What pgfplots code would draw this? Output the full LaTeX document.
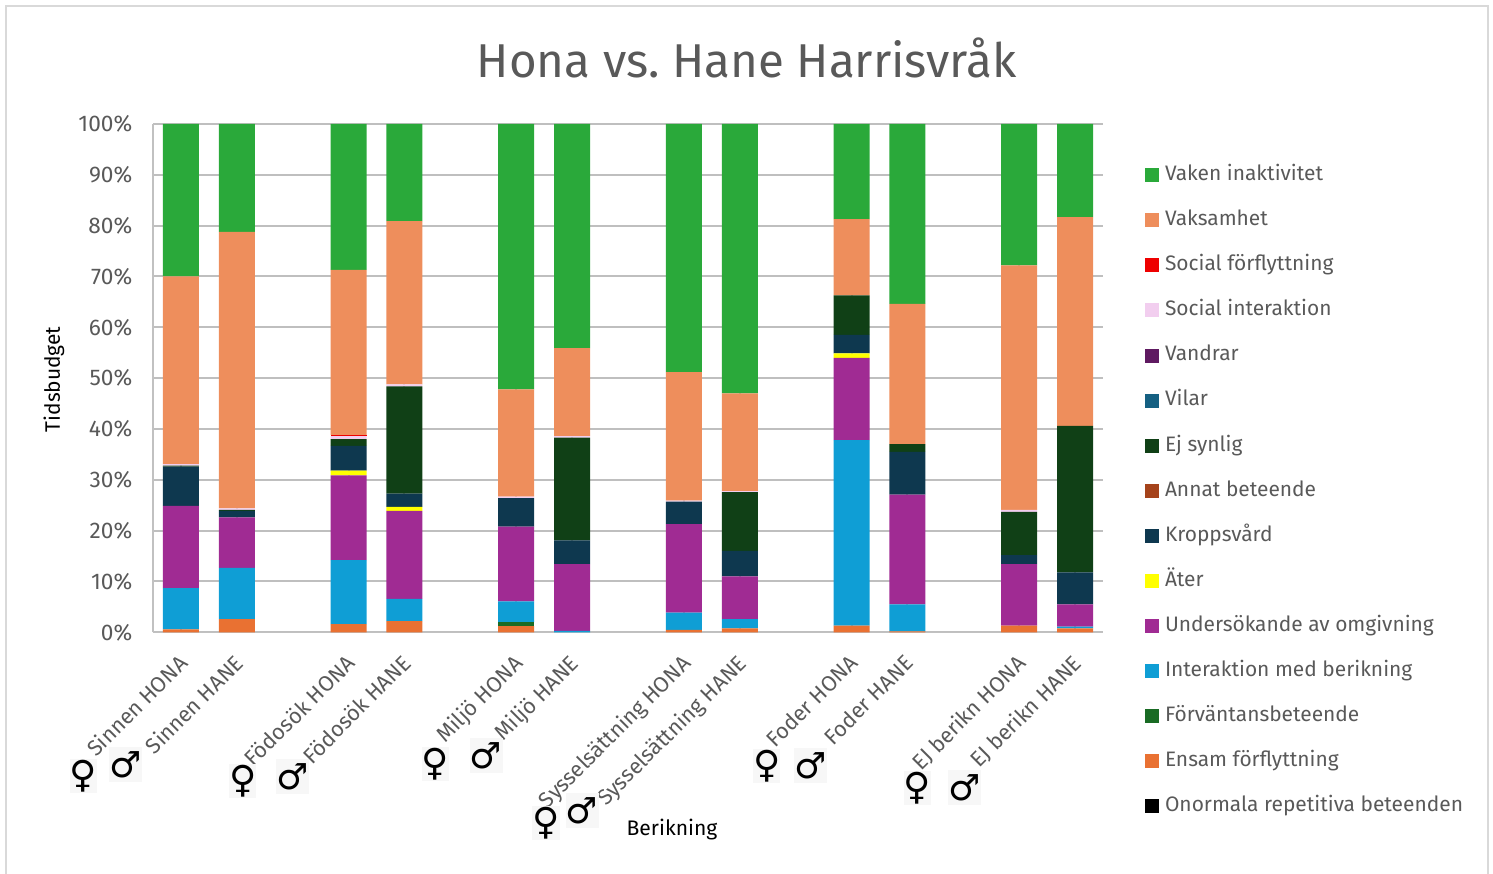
\documentclass[border=0pt]{standalone}
\usepackage{pgfplots}
\usepackage{pgfplotstable}
\usepackage{fontspec}
\setmainfont{Fira Sans}
\newfontfamily\sym{DejaVu Sans}
\pgfplotsset{compat=1.18}
\definecolor{cVaken}{HTML}{2AA93A}
\definecolor{cVaks}{HTML}{EE8E5C}
\definecolor{cSocF}{HTML}{EE0000}
\definecolor{cSocI}{HTML}{F2CEEF}
\definecolor{cVand}{HTML}{5F1A61}
\definecolor{cVilar}{HTML}{156082}
\definecolor{cEj}{HTML}{104016}
\definecolor{cAnnat}{HTML}{A5431B}
\definecolor{cKro}{HTML}{0E384F}
\definecolor{cAter}{HTML}{FFFF00}
\definecolor{cUnd}{HTML}{A02B93}
\definecolor{cInt}{HTML}{0F9ED5}
\definecolor{cForv}{HTML}{196B24}
\definecolor{cEns}{HTML}{E97132}
\definecolor{txt}{HTML}{595959}
\definecolor{grid}{HTML}{D9D9D9}
\pgfplotstableread{
x  Ono Ens Forv Int  Und  Ater Kro Annat Ej   Vilar Vand SocI SocF Vaks Vaken
0  0   0.6 0    8.1  16.2 0    7.7 0     0.2  0     0    0.3  0    36.9 30.0
1  0   2.6 0    10.1 9.9  0    1.3 0     0.2  0     0    0.3  0    54.4 21.2
3  0   1.6 0    12.6 16.7 0.9  4.9 0     1.3  0     0    0.6  0.2  32.5 28.7
4  0   2.2 0    4.4  17.3 0.8  2.6 0     21.1 0     0    0.4  0    32.1 19.1
6  0   1.2 0.8  4.1  14.7 0    5.6 0     0    0     0    0.3  0    21.1 52.2
7  0   0   0    0.3  13.1 0    4.7 0     20.2 0     0    0.3  0    17.3 44.1
9  0   0.5 0    3.4  17.4 0    4.4 0     0    0     0    0.2  0    25.3 48.8
10 0   0.8 0    1.8  8.4  0    5.0 0     11.6 0     0    0.2  0    19.2 53.0
12 0   1.3 0    36.5 16.2 0.9  3.6 0     7.8  0     0    0    0    15.0 18.7
13 0   0.2 0    5.3  21.6 0    8.4 0     1.5  0     0    0    0    27.6 35.4
15 0   1.3 0    0    12.1 0    1.8 0     8.5  0     0    0.4  0    48.1 27.8
16 0   0.8 0    0.3  4.4  0    6.3 0     28.8 0     0    0    0    41.1 18.3
}\data
\newcommand{\fem}[2]{\node[fill=black!3,inner sep=0pt,minimum width=18.75pt,minimum height=25.5pt,font=\sym\fontsize{28pt}{28pt}\selectfont] at (#1*0.75pt,{(874-#2)*0.75pt}) {♀};}
\newcommand{\mal}[2]{\node[fill=black!3,inner sep=0pt,minimum width=24.75pt,minimum height=26pt,font=\sym\fontsize{27pt}{27pt}\selectfont] at (#1*0.75pt,{(874-#2)*0.75pt}) {♂};}
\begin{document}
\frenchspacing
\begin{tikzpicture}[x=1pt,y=1pt]
\path[use as bounding box] (0,0) rectangle (1119.75pt,655.5pt);
\draw[grid,line width=1.5pt] (4.5pt,0) -- (4.5pt,650.7pt) -- (1116pt,650.7pt) -- (1116pt,0);
\begin{axis}[
  at={(114.75pt,181.25pt)},anchor=south west,
  scale only axis,width=712.5pt,height=381.25pt,
  ybar stacked,bar width=27pt,
  xmin=-0.5,xmax=16.5,ymin=0,ymax=100,
  xtick={0,1,3,4,6,7,9,10,12,13,15,16},
  xticklabels={Sinnen HONA,Sinnen HANE,Födosök HONA,Födosök HANE,Miljö HONA,Miljö HANE,Sysselsättning HONA,Sysselsättning HANE,Foder HONA,Foder HANE,EJ berikn HONA,EJ berikn HANE},
  ytick={0,10,...,100},
  yticklabel={\pgfmathprintnumber{\tick}\%},
  /pgf/number format/assume math mode=true,
  major tick length=0pt,
  ymajorgrids,
  grid style={grid,line width=1.5pt},
  axis line style={grid!70!black!60,line width=1pt},
  axis x line*=bottom,axis y line*=left,
  axis line style={-},
  tick label style={text=txt,font=\fontsize{16pt}{18pt}\selectfont},
  yticklabel style={xshift=-12pt,font=\fontsize{17pt}{18pt}\selectfont},
  xticklabel style={rotate=45,anchor=north east,xshift=-9.6pt,yshift=-5.35pt,font=\fontsize{16.3pt}{18pt}\selectfont},
  reverse legend,
  legend cell align=left,
  legend image code/.code={\fill[#1] (0pt,-5.25pt) rectangle (10.5pt,5.25pt);\path (15pt,0pt);},
  legend style={at={(1.0442,0.9227)},anchor=north west,draw=none,fill=none,inner sep=0pt,outer sep=0pt,
     font=\fontsize{15.7pt}{18pt}\selectfont,text=txt,row sep=15.8pt,
     nodes={inner sep=0pt,text height=13pt,text depth=5pt}},
]
\addplot[fill=black,draw=none] table[x=x,y=Ono] {\data};\addlegendentry{Onormala repetitiva beteenden}
\addplot[fill=cEns,draw=none] table[x=x,y=Ens] {\data};\addlegendentry{Ensam förflyttning}
\addplot[fill=cForv,draw=none] table[x=x,y=Forv] {\data};\addlegendentry{Förväntansbeteende}
\addplot[fill=cInt,draw=none] table[x=x,y=Int] {\data};\addlegendentry{Interaktion med berikning}
\addplot[fill=cUnd,draw=none] table[x=x,y=Und] {\data};\addlegendentry{Undersökande av omgivning}
\addplot[fill=cAter,draw=none] table[x=x,y=Ater] {\data};\addlegendentry{Äter}
\addplot[fill=cKro,draw=none] table[x=x,y=Kro] {\data};\addlegendentry{Kroppsvård}
\addplot[fill=cAnnat,draw=none] table[x=x,y=Annat] {\data};\addlegendentry{Annat beteende}
\addplot[fill=cEj,draw=none] table[x=x,y=Ej] {\data};\addlegendentry{Ej synlig}
\addplot[fill=cVilar,draw=none] table[x=x,y=Vilar] {\data};\addlegendentry{Vilar}
\addplot[fill=cVand,draw=none] table[x=x,y=Vand] {\data};\addlegendentry{Vandrar}
\addplot[fill=cSocI,draw=none] table[x=x,y=SocI] {\data};\addlegendentry{Social interaktion}
\addplot[fill=cSocF,draw=none] table[x=x,y=SocF] {\data};\addlegendentry{Social förflyttning}
\addplot[fill=cVaks,draw=none] table[x=x,y=Vaks] {\data};\addlegendentry{Vaksamhet}
\addplot[fill=cVaken,draw=none] table[x=x,y=Vaken] {\data};\addlegendentry{Vaken inaktivitet}
\end{axis}
\node[text=txt,font=\fontsize{35.6pt}{40pt}\selectfont] at (560pt,612pt) {Hona vs. Hane Harrisvråk};
\node[rotate=90,font=\fontsize{15.7pt}{18pt}\selectfont] at (40.5pt,371pt) {Tidsbudget};
\node[font=\fontsize{15.8pt}{18pt}\selectfont] at (504pt,33pt) {Berikning};
\fem{83.3}{776}
\mal{125.7}{764.3}
\fem{242.7}{780.7}
\mal{292.3}{776.3}
\fem{435.3}{764}
\mal{486}{755.3}
\fem{546}{823.3}
\mal{582}{810.3}
\fem{766.7}{765.7}
\mal{810.3}{765.3}
\fem{917.3}{788}
\mal{964.3}{787.7}
\end{tikzpicture}
\end{document}
